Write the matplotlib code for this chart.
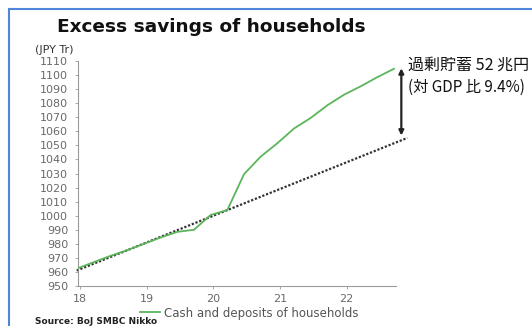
import matplotlib
matplotlib.use('Agg')
import matplotlib.pyplot as plt
from matplotlib.lines import Line2D

# quarterly cash and deposits of households (JPY Tr), x in decimal years
quarters = [17.96, 18.21, 18.46, 18.71, 18.96, 19.21, 19.46, 19.71, 19.96, 20.21,
            20.46, 20.71, 20.96, 21.21, 21.46, 21.71, 21.96, 22.21, 22.46, 22.71]
deposits = [962.5, 967.0, 971.5, 975.5, 980.0, 984.5, 988.5, 990.0, 1000.5, 1004.0,
            1029.5, 1042.0, 1051.5, 1062.0, 1069.5, 1078.5, 1086.0, 1092.0, 1098.5, 1104.5]

# pre-covid trend line
trend_x = [17.95, 22.91]
trend_y = [961.0, 1055.3]

# excess savings arrow
gap_x = 22.82
gap_top = 1104.8
gap_bottom = 1057.0

xticks = [18, 19, 20, 21, 22]
yticks = list(range(950, 1111, 10))

title = 'Excess savings of households'
unit_label = '(JPY Tr)'
legend_label = 'Cash and deposits of households'
source = 'Source: BoJ SMBC Nikko'
note1 = '過剰貯蓄 52 兆円'
note2 = '(対 GDP 比 9.4%)'

W, H = 532, 326
fig = plt.figure(figsize=(W / 100, H / 100), dpi=100)
fig.patch.set_facecolor('white')

ax = fig.add_axes([78 / W, 1 - 286 / H, (396 - 78) / W, (286 - 61) / H])
green = '#5cb55a'
ax.plot(quarters, deposits, color=green, lw=1.3, label=legend_label, zorder=3)
ax.plot(trend_x, trend_y, color='#333333', lw=1.6, ls=(0, (1, 0.8)), zorder=2, clip_on=False)

ax.annotate('', xy=(gap_x, gap_bottom), xytext=(gap_x, gap_top),
            arrowprops=dict(arrowstyle='<|-|>', color='#222222', lw=1.6,
                            mutation_scale=7, shrinkA=0, shrinkB=0),
            annotation_clip=False)

ax.set_xlim(17.97, 22.74)
ax.set_ylim(950, 1110)
ax.set_xticks(xticks)
ax.set_xticklabels([str(t) for t in xticks])
ax.set_yticks(yticks)
for s in ['top', 'right']:
    ax.spines[s].set_visible(False)
for s in ['left', 'bottom']:
    ax.spines[s].set_color('#9a9a9a')
    ax.spines[s].set_linewidth(0.8)
ax.tick_params(axis='both', colors='#9a9a9a', labelcolor='#6a6a6a', labelsize=8, length=2, width=0.6)
ax.tick_params(axis='y', pad=5)
ax.tick_params(axis='x', pad=3.5)

fig.text(57 / W, 1 - 27 / H, title, fontsize=13.3, fontweight='bold', color='#111111', va='center', ha='left')
fig.text(35 / W, 1 - 50 / H, unit_label, fontsize=8, color='#333333', va='center', ha='left')
fig.text(35 / W, 1 - 321 / H, source, fontsize=6.5, fontweight='bold', color='#222222', va='center', ha='left')

ax.legend(loc='center left', bbox_to_anchor=(140 / W, 1 - 313 / H), bbox_transform=fig.transFigure,
          frameon=False, fontsize=8.5, labelcolor='#555555', handlelength=1.7, handletextpad=0.3,
          borderpad=0, borderaxespad=0)

jp = ['Noto Sans CJK JP', 'DejaVu Sans']
fig.text(408 / W, 1 - 65 / H, note1, fontsize=11.5, family=jp, color='#111111', va='center', ha='left')
fig.text(408 / W, 1 - 87 / H, note2, fontsize=11, family=jp, color='#111111', va='center', ha='left')

# blue frame around the pasted chart
fig.add_artist(Line2D([9 / W, 9 / W], [0, 1 - 9 / H], color='#4f86d9', lw=1.5))
fig.add_artist(Line2D([9 / W, 1], [1 - 9 / H, 1 - 9 / H], color='#4f86d9', lw=1.5))

fig.savefig('out.png', dpi=100, facecolor='white')
